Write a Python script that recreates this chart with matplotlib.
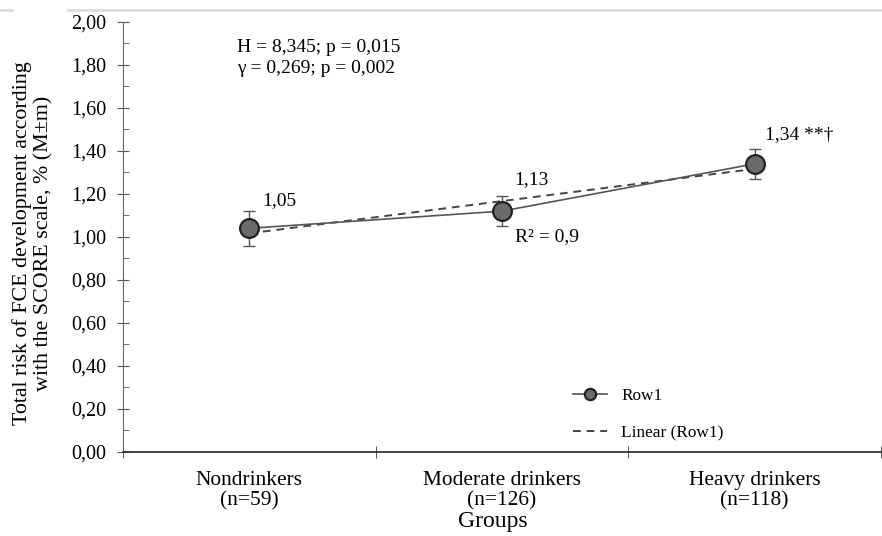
import numpy as np
import matplotlib.pyplot as plt
from matplotlib.lines import Line2D
from matplotlib.ticker import MultipleLocator, FixedLocator, NullFormatter

plt.rcParams['font.family'] = ['Liberation Serif', 'DejaVu Serif']

groups = ["Nondrinkers\n(n=59)", "Moderate drinkers\n(n=126)", "Heavy drinkers\n(n=118)"]
means = [1.04, 1.12, 1.34]
errors = [0.08, 0.07, 0.07]
value_labels = ["1,05", "1,13", "1,34 **†"]
y_ticks = [0.0, 0.2, 0.4, 0.6, 0.8, 1.0, 1.2, 1.4, 1.6, 1.8, 2.0]
y_tick_labels = ["0,00", "0,20", "0,40", "0,60", "0,80", "1,00", "1,20", "1,40", "1,60", "1,80", "2,00"]

x = np.arange(1, len(groups) + 1)

fig = plt.figure(figsize=(8.82, 5.36), dpi=100)
ax = fig.add_axes([0.1395, 0.157, 0.8594, 0.802])

# trend line (linear fit)
k, b = np.polyfit(x, means, 1)
trend, = ax.plot(x, k * x + b, color='#444444', lw=1.4, ls=(0, (4, 3)), label="Linear (Row1)", zorder=2)

ax.errorbar(x, means, yerr=errors, fmt='none', ecolor='#555555', elinewidth=1.0,
            capsize=4, capthick=1.0, zorder=3)
row, = ax.plot(x, means, color='#555555', lw=1.2, marker='o', ms=13.5,
               mfc='#6b6b6b', mec='#222222', mew=1.6, label="Row1", zorder=4)

# value labels
offsets = [(0.05, 0.13), (0.05, 0.145), (0.04, 0.134)]
for xi, yi, lab, (dx, dy) in zip(x, means, value_labels, offsets):
    ax.text(xi + dx, yi + dy, lab, fontsize=14, ha='left', va='center')
ax.text(2.05, 1.0, "R² = 0,9", fontsize=14, ha='left', va='center')

ax.text(0.95, 1.88, "H = 8,345; p = 0,015", fontsize=14, ha='left', va='center')
ax.text(0.95, 1.785, "γ = 0,269; p = 0,002", fontsize=14, ha='left', va='center')

ax.set_xlim(0.5, 3.5)
ax.set_ylim(0, 2.0)
ax.set_yticks(y_ticks)
ax.set_yticklabels(y_tick_labels, fontsize=14.5)
ax.yaxis.set_minor_locator(MultipleLocator(0.1))
ax.tick_params(axis='y', which='major', direction='inout', length=8, color='#555555', pad=8)
ax.tick_params(axis='y', which='minor', direction='in', length=4, color='#555555')

ax.set_xticks(x)
ax.set_xticklabels(groups, fontsize=15.4, linespacing=1.05)
ax.tick_params(axis='x', which='major', length=0, pad=14)
ax.xaxis.set_minor_locator(FixedLocator([0.5, 1.5, 2.5, 3.5]))
ax.xaxis.set_minor_formatter(NullFormatter())
ax.tick_params(axis='x', which='minor', direction='inout', length=8, color='#333333')

for s in ['top', 'right']:
    ax.spines[s].set_visible(False)
ax.spines['left'].set_color('#666666')
ax.spines['bottom'].set_color('#333333')
ax.spines['bottom'].set_linewidth(1.3)

ax.set_xlabel("Groups", fontsize=17)
ax.xaxis.set_label_coords(0.488, -0.163)
ax.xaxis.label.set_va('center')

ax.set_ylabel("Total risk of FCE development according\nwith the SCORE scale, % (M±m)", fontsize=15.8, linespacing=1.1)
ax.yaxis.set_label_coords(-0.119, 0.486)
ax.yaxis.label.set_va('center')

ax.legend(handles=[row, trend], loc='lower left', bbox_to_anchor=(0.582, 0.005), frameon=False,
          fontsize=12.4, handlelength=2.0, labelspacing=1.2, handletextpad=0.8,
          borderpad=0, markerscale=0.6)

# faint frame line at the top of the picture
fig.add_artist(Line2D([0, 0.014], [0.981, 0.981], color='#dddddd', lw=2))
fig.add_artist(Line2D([0.077, 1], [0.981, 0.981], color='#dddddd', lw=2))

fig.savefig("out.png", dpi=100)
